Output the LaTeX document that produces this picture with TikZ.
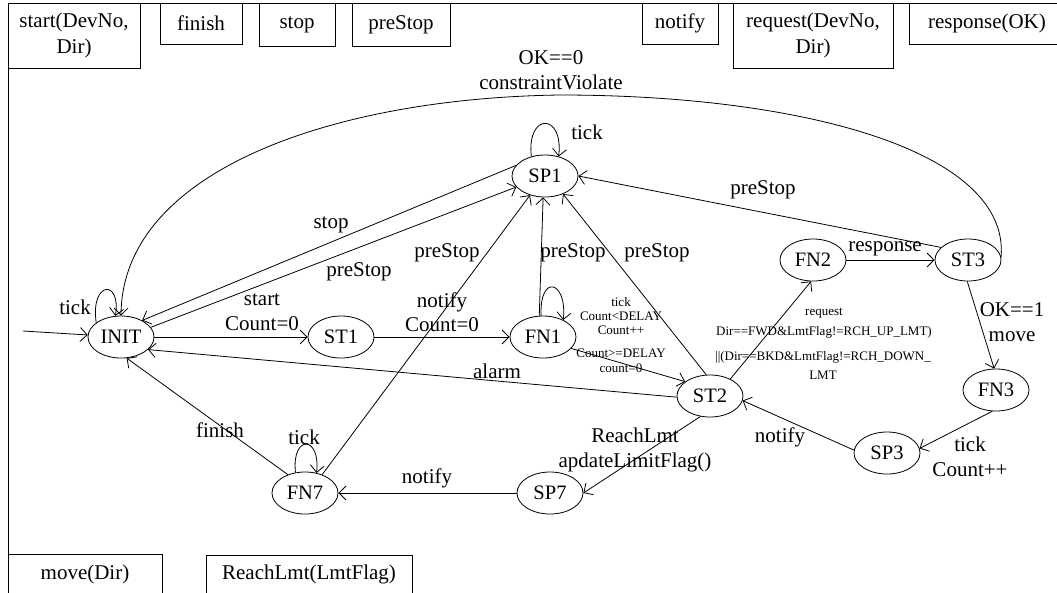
\documentclass[tikz,border=0pt]{standalone}
\usepackage{fontspec}
\setmainfont{Liberation Serif}
\usetikzlibrary{shapes.geometric,arrows.meta}
\begin{document}
\begin{tikzpicture}[x=1pt,y=-1pt,
  st/.style={draw, ellipse, minimum width=66pt, minimum height=42pt, inner sep=0pt, font=\fontsize{20.5}{24}\selectfont, line width=0.8pt},
  lab/.style={inner sep=0pt, font=\fontsize{21}{24.5}\selectfont, align=center},
  sml/.style={inner sep=0pt, font=\fontsize{13}{14}\selectfont, align=center},
  box/.style={draw, line width=0.8pt, inner sep=0pt, align=center, font=\fontsize{21}{26}\selectfont},
  boxtext/.style={inner sep=0pt, font=\fontsize{21}{26}\selectfont},
  arr/.style={line width=0.8pt, -{Straight Barb[length=7pt,width=14pt]}},
  ln/.style={line width=0.8pt}]
\useasboundingbox (0,0) rectangle (1057,592);
\clip (0,0) rectangle (1057,592);

% frame
\draw[ln] (8,610) -- (8,3) -- (1070,3);

% top boxes
\node[box, minimum width=132pt, minimum height=65pt] (bStart) at (74,35.5) {start(DevNo,\\Dir)};
\node[box, minimum width=82pt, minimum height=41pt] (bFinish) at (201,23.5) {finish};
\node[box, minimum width=76pt, minimum height=43pt] (bStop) at (297,24.5) {stop};
\node[box, minimum width=98pt, minimum height=43pt] (bPre) at (401,24.5) {preStop};
\node[box, minimum width=76pt, minimum height=41pt] (bNotify) at (680,23.5) {notify};
\node[box, minimum width=160pt, minimum height=65pt] (bReq) at (813,35.5) {request(DevNo,\\Dir)};
\draw[ln] (909,3) rectangle (1070,44);
\node[boxtext] (tResp) at (987,23) {response(OK)};
% bottom boxes
\draw[ln] (8,554) rectangle (162,610);
\node[boxtext] (tMove) at (85,574) {move(Dir)};
\draw[ln] (206,555) rectangle (412,610);
\node[boxtext] (tReach) at (309,574) {ReachLmt(LmtFlag)};

% states
\node[st] (INIT) at (121,337) {INIT};
\node[st] (ST1) at (341,337) {ST1};
\node[st] (FN1) at (543,337) {FN1};
\node[st] (SP1) at (545,176) {SP1};
\node[st] (FN2) at (813,260) {FN2};
\node[st] (ST3) at (968,260) {ST3};
\node[st] (FN3) at (996,390) {FN3};
\node[st] (SP3) at (887,453) {SP3};
\node[st] (ST2) at (710,396) {ST2};
\node[st] (SP7) at (550,493) {SP7};
\node[st] (FN7) at (305,493) {FN7};

% initial arrow
\coordinate (in0) at (23,331);
\draw[arr] (in0) -- (INIT);

% self loops
\draw[arr] (INIT.150) .. controls +(-6,-42) and +(6,-37) .. (INIT.105);
\draw[arr] (SP1.125) .. controls +(-5,-44) and +(5,-44) .. (SP1.55);
\draw[arr] (FN1.95) .. controls +(-2,-42) and +(4,-40) .. (FN1.40);
\draw[arr] (FN7.115) .. controls +(-4,-38) and +(4,-38) .. (FN7.60);

% straight transitions
\draw[arr] (INIT) -- (ST1);
\draw[arr] (ST1) -- (FN1);
\draw[arr] (SP1.160) -- (INIT.38);
\draw[arr] (INIT.18) -- (SP1.201);
\draw[arr] (FN7.47) -- (SP1.232);
\draw[arr] (FN1.100) -- (SP1.265);
\draw[arr] (ST2.100) -- (SP1.315);
\draw[arr] (ST3.155) -- (SP1.east);
\draw[arr] (FN1.-22) -- (ST2.150);
\draw[arr] (ST2.182) -- (INIT.-25);
\draw[arr] (ST2.40) -- (FN2.265);
\draw[arr] (FN2) -- (ST3);
\draw[arr] (ST3.268) -- (FN3.95);
\draw[arr] (FN3.260) -- (SP3.8);
\draw[arr] (SP3.175) -- (ST2.-8);
\draw[arr] (ST2.245) -- (SP7.east);
\draw[arr] (SP7) -- (FN7);
\draw[arr] (FN7.133) -- (INIT.-75);

% big arc
\coordinate (arcTop) at (560,95);
\draw[arr] (ST3.5) .. controls (1010,150) and (800,95) .. (arcTop)
  .. controls (335,98) and (122,170) .. (INIT.north);

% labels
\node[lab] (lTickI) at (75,307) {tick};
\node[lab] (lTickS) at (587,132) {tick};
\node[lab] (lStop) at (331,225) {stop};
\node[lab] (lPreI) at (359,272) {preStop};
\node[lab] (lStart) at (262,312) {start\\Count=0};
\node[lab] (lNotif1) at (442,312) {notify\\Count=0};
\node[lab] (lPre7) at (447,253) {preStop};
\node[lab] (lPre1) at (573,253) {preStop};
\node[lab] (lPre2) at (657,253) {preStop};
\node[lab] (lPre3) at (763,190) {preStop};
\node[lab] (lOK0) at (551,70) {OK==0\\constraintViolate};
\node[lab] (lResp) at (885,249) {response};
\node[lab] (lOK1) at (1012,322) {OK==1\\move};
\node[sml] (lTick1) at (621,316) {tick\\Count<DELAY\\Count++};
\node[sml] (lCnt) at (621,361) {Count>=DELAY\\[1pt]count=0};
\node[sml] (lReq1) at (824,313) {request};
\node[sml] (lReq2) at (824,332) {Dir==FWD\&LmtFlag!=RCH\_UP\_LMT)};
\node[sml] (lReq3) at (823,357) {||(Dir==BKD\&LmtFlag!=RCH\_DOWN\_};
\node[sml] (lReq4) at (823,375) {LMT};
\node[lab] (lAlarm) at (497,371) {alarm};
\node[lab] (lFinish) at (220,430) {finish};
\node[lab] (lTick7) at (304,437) {tick};
\node[lab] (lNotif7) at (427,478) {notify};
\node[lab] (lReach) at (635,450) {ReachLmt\\apdateLimitFlag()};
\node[lab] (lNotif3) at (780,437) {notify};
\node[lab] (lTick3) at (970,457) {tick\\Count++};
\end{tikzpicture}
\end{document}
